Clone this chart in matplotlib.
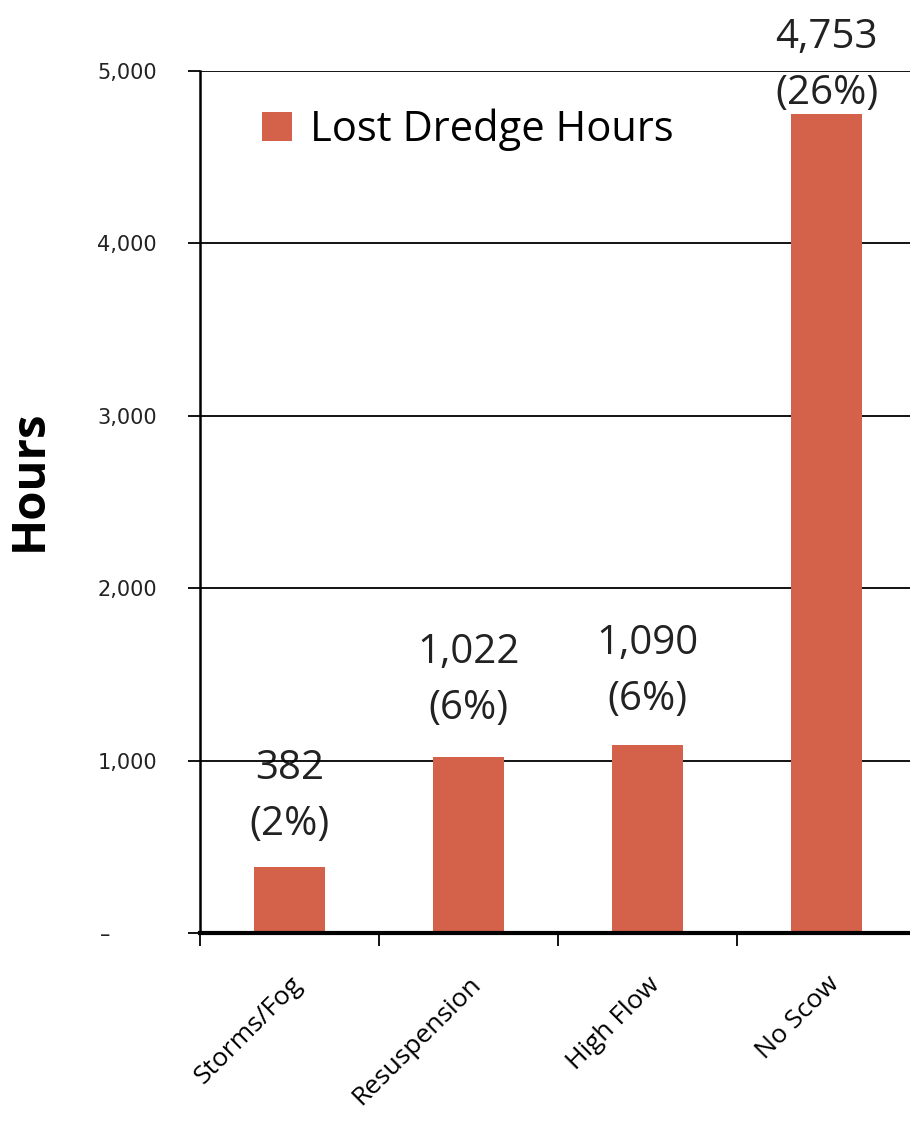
import matplotlib
matplotlib.use('Agg')
import matplotlib.pyplot as plt
from matplotlib.ticker import FixedLocator

# Lost dredge hours by cause
categories = ['Storms/Fog', 'Resuspension', 'High Flow', 'No Scow']
hours = [382, 1022, 1090, 4753]
shares = ['2%', '6%', '6%', '26%']
ytick_vals = [0, 1000, 2000, 3000, 4000, 5000]
ytick_labels = ['–       ', '1,000', '2,000', '3,000', '4,000', '5,000']

bar_color = '#D4624A'
label_pads = [16, 20, 18, 0]  # gap (pt) between bar top and value label

fig = plt.figure(figsize=(9.1, 11.31), dpi=100)
ax = fig.add_axes([200/910, 1 - 933/1131, 710/910, (933 - 71)/1131])

x = list(range(len(categories)))
ax.bar(x, hours, width=0.4, color=bar_color, zorder=2, label='Lost Dredge Hours')

ax.set_xlim(-0.5, 3.466)
ax.set_ylim(0, 5000)

# gridlines
ax.set_axisbelow(True)
ax.yaxis.grid(True, color='black', linewidth=1.3)

for s in ['top', 'right']:
    ax.spines[s].set_visible(False)
ax.spines['left'].set_linewidth(1.8)
ax.spines['bottom'].set_linewidth(3)

ax.set_yticks(ytick_vals)
ax.set_yticklabels(ytick_labels, fontsize=15, family='Liberation Sans Narrow', color='#222222')
ax.tick_params(axis='y', length=9, width=1.3, pad=22, direction='out')

ax.set_xticks(x)
ax.set_xticklabels(categories, rotation=45, ha='right', rotation_mode='anchor',
                   fontsize=19, family='Open Sans')
ax.tick_params(axis='x', which='major', length=0, pad=28)
ax.xaxis.set_minor_locator(FixedLocator([-0.5, 0.5, 1.5, 2.5, 3.5]))
ax.tick_params(axis='x', which='minor', length=9, width=1.3, direction='out')

# value labels
for xi, h, sh, pad in zip(x, hours, shares, label_pads):
    ax.annotate(f'{h:,}\n({sh})', xy=(xi, h), xytext=(0, pad), textcoords='offset points',
                ha='center', va='bottom', fontsize=29, family='Open Sans',
                color='#222222', linespacing=1.5, zorder=0.4, annotation_clip=False)

ax.set_ylabel('Hours', fontsize=34, fontweight='bold', family='Open Sans')
ax.yaxis.set_label_coords(-0.208, 0.5255)

leg = ax.legend(loc='upper left', bbox_to_anchor=(0.035, 1.0), frameon=False,
                prop={'family': 'Open Sans', 'size': 30}, handlelength=0.7,
                handleheight=0.7, handletextpad=0.45)

fig.savefig('out.png', dpi=100)
